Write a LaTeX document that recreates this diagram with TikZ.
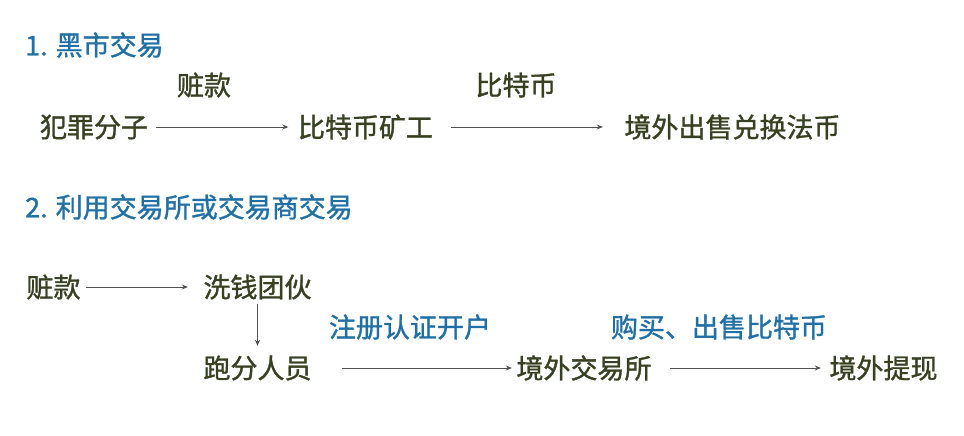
\documentclass[tikz,border=0pt]{standalone}
\usepackage{fontspec}
\usepackage{tikz}
\usepackage{xcolor}
\usetikzlibrary{arrows.meta}
\newfontfamily\cjk[FakeBold=1.2]{Noto Sans CJK SC}

\definecolor{olivetext}{RGB}{56,64,34}
\definecolor{titleblue}{RGB}{32,112,165}
\definecolor{arrowgray}{RGB}{80,80,80}

\begin{document}
\begin{tikzpicture}[x=1pt, y=-1pt,
    txt/.style={font=\cjk\fontsize{27pt}{32pt}\selectfont, text=olivetext, inner xsep=4pt, inner ysep=4pt},
    lbl/.style={txt, text=titleblue},
    head/.style={font=\cjk\fontsize{27pt}{32pt}\selectfont, text=titleblue, anchor=west, inner sep=0pt},
    flow/.style={draw=arrowgray, line width=1pt, -{Stealth[length=6pt,width=5pt]}}]
    \useasboundingbox (0,0) rectangle (964,436);

    % 1. black market
    \node[head] (title1) at (25,45) {1. 黑市交易};
    \node[txt] (crim) at (94,127) {犯罪分子};
    \node[txt] (miner) at (365.5,127) {比特币矿工};
    \node[txt] (abroad) at (732.5,127) {境外出售兑换法币};
    \node[txt] (lblmoney) at (204,85) {赃款};
    \node[txt] (lblcoin) at (516,85) {比特币};

    \draw[flow, shorten <=3.5pt, shorten >=5.5pt] (crim) -- (miner);
    \draw[flow, shorten <=13.5pt, shorten >=17.5pt] (miner) -- (abroad);

    % 2. exchanges or dealers
    \node[head] (title2) at (25,207) {2. 利用交易所或交易商交易};
    \node[txt] (money) at (53.5,287) {赃款};
    \node[txt] (gang) at (257.5,287) {洗钱团伙};
    \node[txt] (runner) at (257.5,368) {跑分人员};
    \node[txt] (exch) at (584,368) {境外交易所};
    \node[txt] (cash) at (883.5,368) {境外提现};
    \node[lbl] (lblopen) at (410,327) {注册认证开户};
    \node[lbl] (lbltrade) at (719,327) {购买、出售比特币};

    \draw[flow, shorten <=1.5pt, shorten >=11.5pt] (money) -- (gang);
    \draw[flow, shorten >=5.5pt] (gang) -- (runner);
    \draw[flow, shorten <=26.5pt, shorten >=0.5pt] (runner) -- (exch);
    \draw[flow, shorten <=14.5pt, shorten >=4.5pt] (exch) -- (cash);
\end{tikzpicture}
\end{document}
